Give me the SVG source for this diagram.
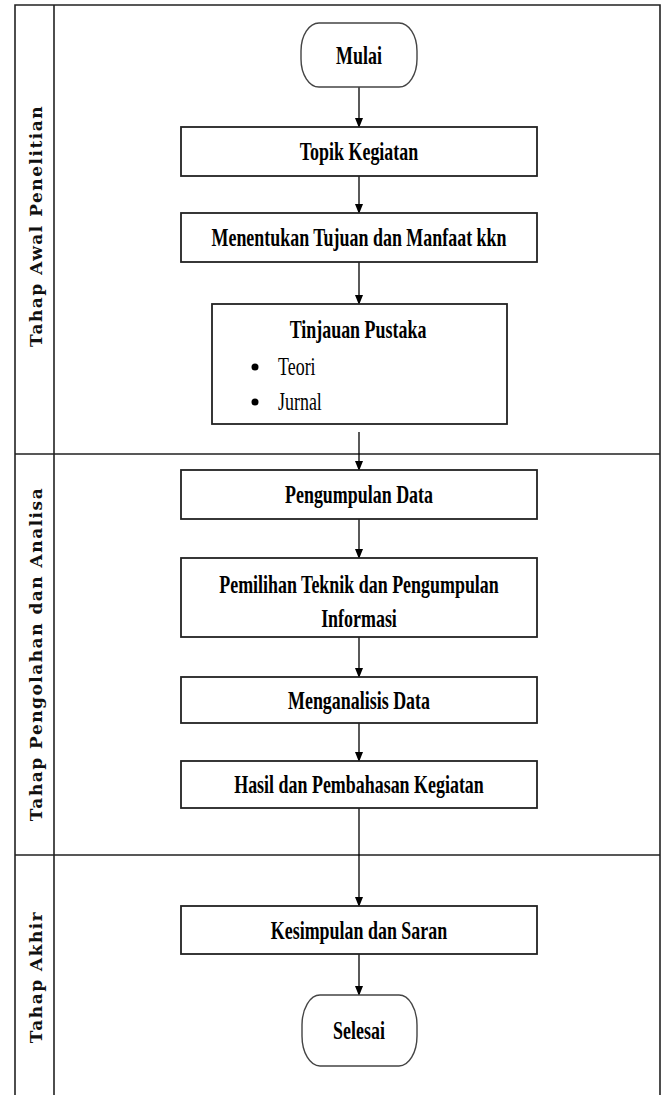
<svg xmlns="http://www.w3.org/2000/svg" width="664" height="1095" viewBox="0 0 664 1095">
<defs>
<marker id="ah" markerWidth="10" markerHeight="12" refX="9" refY="4" orient="auto" markerUnits="userSpaceOnUse" viewBox="0 0 10 8">
<path d="M0,0 L10,4 L0,8 Z" fill="#000"/>
</marker>
</defs>
<style>
.frame{fill:none;stroke:#222;stroke-width:1.6}
.box{fill:#fff;stroke:#222;stroke-width:1.8}
.term{fill:#fff;stroke:#444;stroke-width:1.4}
.t{font-family:"Liberation Serif","Times New Roman",serif;font-weight:bold;font-size:26px;fill:#000;text-anchor:middle}
.b{font-family:"Liberation Serif","Times New Roman",serif;font-size:26px;fill:#000}
.lane{font-family:"DejaVu Serif","Liberation Serif",serif;font-weight:bold;font-size:17px;letter-spacing:1.5px;fill:#111;text-anchor:middle}
.c{stroke:#000;stroke-width:1.3;fill:none;marker-end:url(#ah)}
</style>
<rect width="664" height="1095" fill="#fff"/>
<g id="lanes">
<path class="frame" d="M15,1095 V5 H660 V1095 M54,5 V1095 M15,454 H660 M15,855 H660"/>
<text class="lane" transform="translate(42,226) rotate(-90)">Tahap Awal Penelitian</text>
<text class="lane" transform="translate(42,654) rotate(-90)">Tahap Pengolahan dan Analisa</text>
<text class="lane" transform="translate(42,977) rotate(-90)">Tahap Akhir</text>
</g>
<g id="connectors">
<line class="c" x1="359" y1="87" x2="359" y2="127"/>
<line class="c" x1="359" y1="176" x2="359" y2="213"/>
<line class="c" x1="359" y1="262" x2="359" y2="304"/>
<line class="c" x1="359" y1="432" x2="359" y2="470"/>
<line class="c" x1="359" y1="519" x2="359" y2="558"/>
<line class="c" x1="359" y1="637" x2="359" y2="677"/>
<line class="c" x1="359" y1="723" x2="359" y2="761"/>
<line class="c" x1="359" y1="808" x2="359" y2="906"/>
<line class="c" x1="359" y1="954" x2="359" y2="995"/>
</g>
<g id="mulai">
<rect class="term" x="301" y="23" width="116" height="64" rx="18" ry="28"/>
<text class="t" transform="translate(359,64) scale(0.69,1)">Mulai</text>
</g>
<g id="topik">
<rect class="box" x="181" y="127" width="356" height="49"/>
<text class="t" transform="translate(359,160) scale(0.69,1)">Topik Kegiatan</text>
</g>
<g id="menentukan">
<rect class="box" x="181" y="213" width="356" height="49"/>
<text class="t" transform="translate(359,246) scale(0.69,1)">Menentukan Tujuan dan Manfaat kkn</text>
</g>
<g id="tinjauan">
<rect class="box" x="212" y="304" width="295" height="120"/>
<text class="t" transform="translate(358,338) scale(0.69,1)">Tinjauan Pustaka</text>
<circle cx="255" cy="367" r="3.5" fill="#000"/>
<text class="b" transform="translate(278,375) scale(0.69,1)">Teori</text>
<circle cx="255" cy="402" r="3.5" fill="#000"/>
<text class="b" transform="translate(278,410) scale(0.69,1)">Jurnal</text>
</g>
<g id="pengumpulan">
<rect class="box" x="181" y="470" width="356" height="49"/>
<text class="t" transform="translate(359,503) scale(0.69,1)">Pengumpulan Data</text>
</g>
<g id="pemilihan">
<rect class="box" x="181" y="558" width="356" height="79"/>
<text class="t" transform="translate(359,593) scale(0.69,1)">Pemilihan Teknik dan Pengumpulan</text>
<text class="t" transform="translate(359,627) scale(0.69,1)">Informasi</text>
</g>
<g id="menganalisis">
<rect class="box" x="181" y="677" width="356" height="46"/>
<text class="t" transform="translate(359,709) scale(0.69,1)">Menganalisis Data</text>
</g>
<g id="hasil">
<rect class="box" x="181" y="761" width="356" height="47"/>
<text class="t" transform="translate(359,793) scale(0.69,1)">Hasil dan Pembahasan Kegiatan</text>
</g>
<g id="kesimpulan">
<rect class="box" x="181" y="906" width="356" height="48"/>
<text class="t" transform="translate(359,939) scale(0.69,1)">Kesimpulan dan Saran</text>
</g>
<g id="selesai">
<rect class="term" x="302" y="995" width="115" height="71" rx="18" ry="30"/>
<text class="t" transform="translate(359,1039) scale(0.69,1)">Selesai</text>
</g>
</svg>
